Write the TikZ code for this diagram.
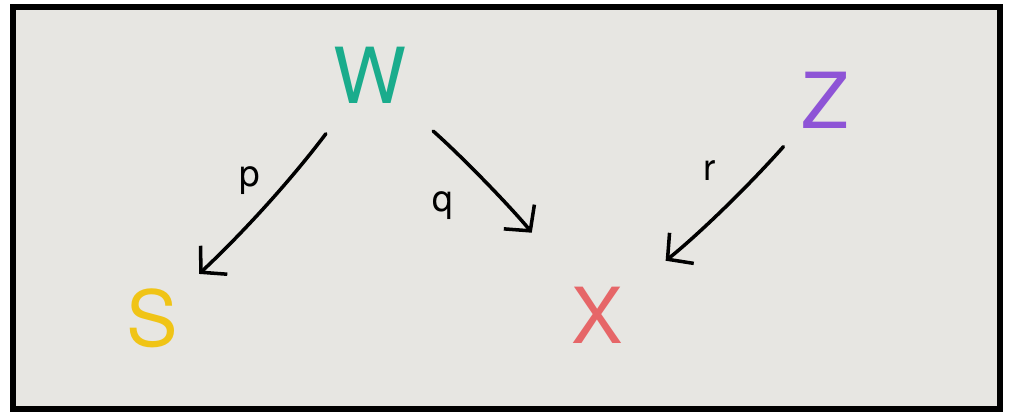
\documentclass[tikz,border=0pt]{standalone}
\usepackage{fontspec}
\setmainfont{TeX Gyre Heros}
\usetikzlibrary{arrows.meta}
\definecolor{paper}{RGB}{231,230,226}
\definecolor{wgreen}{RGB}{26,172,140}
\definecolor{zpurple}{RGB}{142,84,214}
\definecolor{syellow}{RGB}{240,196,22}
\definecolor{xred}{RGB}{230,102,104}
\begin{document}
\begin{tikzpicture}[>={Straight Barb[length=0.36cm,width=0.78cm]}]
        \tikzstyle{var}=[inner sep=0pt,font=\fontsize{44}{48}\selectfont]
        \tikzstyle{edge}=[draw,->,line width=2pt,line cap=round,line join=round]
        \tikzstyle{lbl}=[font=\fontsize{21}{24}\selectfont,inner sep=3pt]
        \useasboundingbox (0,0) rectangle (20.2,8.32);
        \draw[line width=3.4pt,fill=paper] (0.26,0.14) rectangle (20.0,8.18);
       \begin{scope}
         \node [var,text=wgreen] (W) at (7.4,6.82) {W};
         \node [var,text=zpurple] (Z) at (16.5,6.32) {Z};
         \node [var,text=syellow] (S) at (3.04,1.96) {S};
         \node [var,text=xred] (X) at (11.94,2.02) {X};
         \path (W.center) edge [edge,bend left=5,shorten <=1.47cm,shorten >=1.29cm] node[lbl,pos=0.5,above left] {p} (S.center);
         \path (W.center) edge [edge,bend left=5,shorten <=1.69cm,shorten >=2.1cm] node[lbl,pos=0.42,below left=0.25cm] {q} (X.center);
         \path (Z.center) edge [edge,bend left=5,shorten <=1.25cm,shorten >=1.75cm] node[lbl,pos=0.42,above left=0.2cm] {r} (X.center);
        \end{scope}
      \end{tikzpicture}
\end{document}
